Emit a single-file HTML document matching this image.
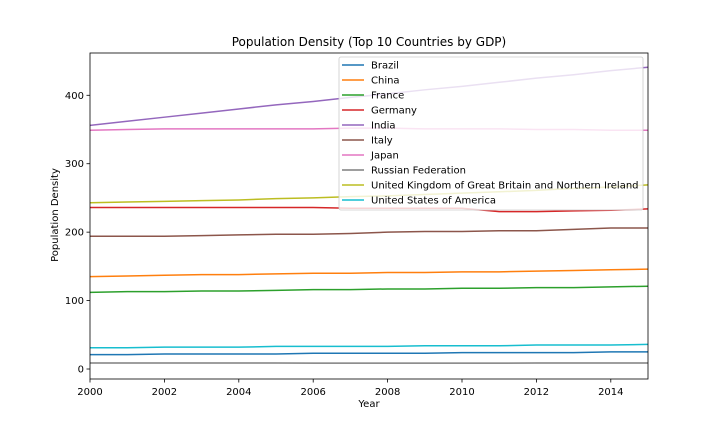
<!DOCTYPE html>
<html><head><meta charset="utf-8"><style>
body{margin:0;background:#fff;}
svg text{font-family:"DejaVu Sans","Liberation Sans",sans-serif;fill:#000;}
</style></head><body>
<svg id="chart" width="720" height="432" xmlns="http://www.w3.org/2000/svg">
<text x="369" y="46" font-size="12" text-anchor="middle">Population Density (Top 10 Countries by GDP)</text>
<text x="369" y="407" font-size="10" text-anchor="middle">Year</text>
<text x="58" y="215" font-size="10" text-anchor="middle" transform="rotate(-90 58 215)">Population Density</text>
<g id="plot"></g>
</svg>
<script>
const years = [2000,2001,2002,2003,2004,2005,2006,2007,2008,2009,2010,2011,2012,2013,2014,2015];
const countries = ["Brazil","China","France","Germany","India","Italy","Japan","Russian Federation","United Kingdom of Great Britain and Northern Ireland","United States of America"];
const brazil = [21,21,22,22,22,22,23,23,23,23,24,24,24,24,25,25];
const china = [135,136,137,138,138,139,140,140,141,141,142,142,143,144,145,146];
const france = [112,113,113,114,114,115,116,116,117,117,118,118,119,119,120,121];
const germany = [236,236,236,236,236,236,236,235,235,235,235,230,230,231,232,234];
const india = [356,362,368,374,380,386,391,397,402,408,413,419,425,430,436,441];
const italy = [194,194,194,195,196,197,197,198,200,201,201,202,202,204,206,206];
const japan = [349,350,351,351,351,351,351,352,352,351,351,351,350,350,349,349];
const russia = [8.8,8.8,8.8,8.7,8.7,8.7,8.6,8.6,8.6,8.6,8.6,8.6,8.7,8.7,8.7,8.8];
const uk = [243,244,245,246,247,249,250,252,253,255,257,259,261,264,266,269];
const usa = [31,31,32,32,32,33,33,33,33,34,34,34,35,35,35,36];
const series = [brazil,china,france,germany,india,italy,japan,russia,uk,usa];
const xTicks = [2000,2002,2004,2006,2008,2010,2012,2014];
const yTicks = [0,100,200,300,400];
const colors = ["#1f77b4","#ff7f0e","#2ca02c","#d62728","#9467bd","#8c564b","#e377c2","#7f7f7f","#bcbd22","#17becf"];

const L=90,R=648,T=53,B=379;
const xMin=2000,xMax=2015,yMin=-14.6,yMax=461.8;
const sx=v=>L+(v-xMin)/(xMax-xMin)*(R-L);
const sy=v=>B-(v-yMin)/(yMax-yMin)*(B-T);
const NS="http://www.w3.org/2000/svg";
const g=document.getElementById('plot');
function mk(tag,attrs,parent){const e=document.createElementNS(NS,tag);for(const k in attrs)e.setAttribute(k,attrs[k]);(parent||g).appendChild(e);return e;}

const clip=mk('clipPath',{id:'pc'});mk('rect',{x:L,y:T,width:R-L,height:B-T},clip);
series.forEach((s,i)=>{
  const p=mk('polyline',{points:s.map((v,j)=>sx(years[j])+','+sy(v)).join(' '),fill:'none',stroke:colors[i],'stroke-width':1.5,'clip-path':'url(#pc)'});
  
  
});
xTicks.forEach(t=>{
  const x=sx(t);
  const tk=mk('line',{x1:x,x2:x,y1:B,y2:B+3.5,stroke:'#000','stroke-width':0.8});
  
  
  const tx=mk('text',{x:x,y:B+16,'font-size':10,'text-anchor':'middle'});tx.textContent=t;
  
  
});
yTicks.forEach(t=>{
  const y=sy(t);
  const tk=mk('line',{x1:L-3.5,x2:L,y1:y,y2:y,stroke:'#000','stroke-width':0.8});
  
  
  const tx=mk('text',{x:L-6,y:y+3.5,'font-size':10,'text-anchor':'end'});tx.textContent=t;
  
  
});
const frame=mk('rect',{x:L,y:T,width:R-L,height:B-T,fill:'none',stroke:'#000','stroke-width':0.8});



const lg=mk('g',{});


mk('rect',{x:339,y:57,width:304,height:153,rx:2,fill:'#fff','fill-opacity':0.8,stroke:'#ccc','stroke-width':0.8},lg);
countries.forEach((c,i)=>{
  const y=65+i*15;
  const e=mk('g',{},lg);
  
  
  mk('line',{x1:342,x2:364,y1:y,y2:y,stroke:colors[i],'stroke-width':1.5},e);
  const t=mk('text',{x:371,y:y+3.5,'font-size':10},e);t.textContent=c;
});
</script>
</body></html>
